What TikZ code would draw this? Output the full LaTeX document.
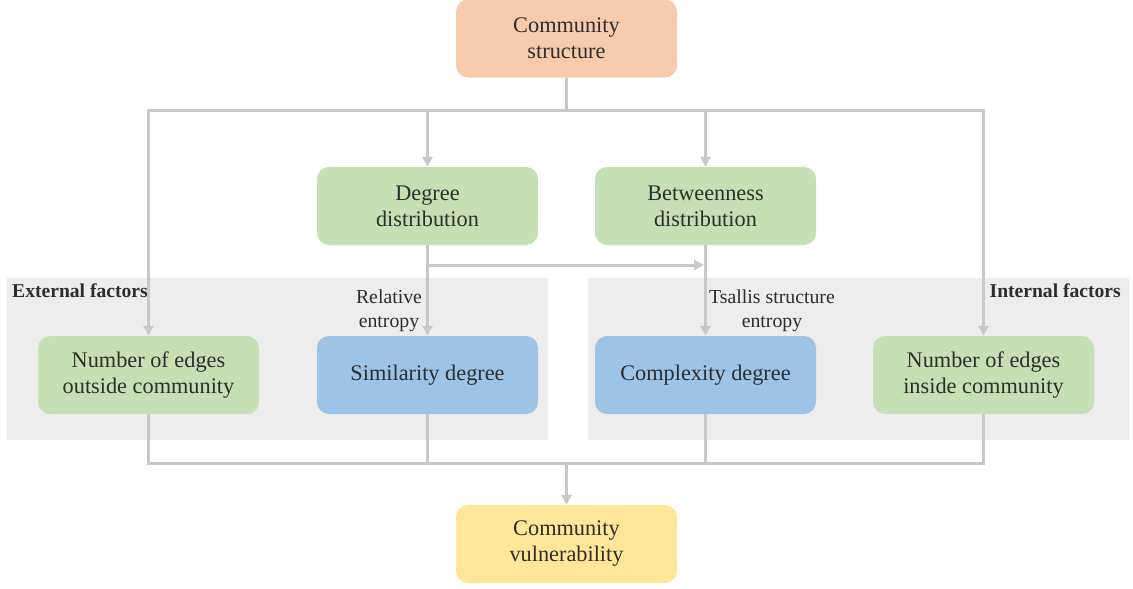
\documentclass[tikz,border=0pt]{standalone}
\usepackage{fontspec}
\setmainfont{Liberation Serif}
\usetikzlibrary{arrows.meta}
\definecolor{cOrange}{RGB}{248,203,173}
\definecolor{cGreen}{RGB}{197,224,180}
\definecolor{cBlue}{RGB}{157,195,230}
\definecolor{cYellow}{RGB}{255,230,153}
\definecolor{cPanel}{RGB}{237,237,237}
\definecolor{cLine}{RGB}{200,200,200}
\definecolor{cText}{RGB}{45,45,45}
\tikzset{
  box/.style={rounded corners=12pt, minimum width=221pt, minimum height=78pt,
    align=center, inner sep=0pt, text=cText,
    font=\fontsize{22.3}{26}\selectfont},
  conn/.style={draw=cLine, line width=3pt},
  arr/.style={conn, -{Triangle[width=10pt,length=10pt]}},
  lbl/.style={text=cText, align=center, inner sep=0pt, font=\fontsize{19.8}{24}\selectfont},
  hdr/.style={text=cText, inner sep=0pt, font=\bfseries\fontsize{19.6}{22}\selectfont},
  panel/.style={fill=cPanel, draw=none}
}
\begin{document}
\begin{tikzpicture}[x=1pt,y=-1pt]
\useasboundingbox (0,0) rectangle (1133,589);
% panels
\fill[panel] (7,278) rectangle (548,440);
\fill[panel] (588,278) rectangle (1129,440);
% nodes
\node[box, fill=cOrange] (cs) at (566.5,38.5) {Community\\structure};
\node[box, fill=cGreen] (dd) at (427.5,206) {Degree\\distribution};
\node[box, fill=cGreen] (bd) at (705.5,206) {Betweenness\\distribution};
\node[box, fill=cGreen] (out) at (148.5,375) {Number of edges\\outside community};
\node[box, fill=cBlue] (sim) at (427.5,375) {Similarity degree};
\node[box, fill=cBlue] (cx) at (705.5,375) {Complexity degree};
\node[box, fill=cGreen] (in) at (983.5,375) {Number of edges\\inside community};
\node[box, fill=cYellow] (cv) at (566.5,544) {Community\\vulnerability};
% labels
\node[hdr, anchor=west] (ext) at (12,291) {External factors};
\node[hdr, anchor=east] (int) at (1121,291) {Internal factors};
\node[lbl] (re) at (389,310.5) {Relative\\entropy};
\node[lbl] (ts) at (772,310.5) {Tsallis structure\\entropy};
% bus coordinates
\coordinate (tb) at (566.5,110);
\coordinate (tbL) at (148.5,110);
\coordinate (tbR) at (983.5,110);
\coordinate (tbD) at (427.5,110);
\coordinate (tbB) at (705.5,110);
\coordinate (br) at (427.5,265);
\coordinate (brE) at (705.5,265);
\coordinate (bb) at (566.5,463);
\coordinate (bbL) at (148.5,463);
\coordinate (bbR) at (983.5,463);
\coordinate (bbS) at (427.5,463);
\coordinate (bbC) at (705.5,463);
% top distribution
\draw[conn] (cs.south) -- (tb);
\draw[conn, line cap=rect] (tbL) -- (tbR);
\draw[arr] (tbL) -- (out.north);
\draw[arr] (tbR) -- (in.north);
\draw[arr] (tbD) -- (dd.north);
\draw[arr] (tbB) -- (bd.north);
% middle
\draw[arr] (dd.south) -- (sim.north);
\draw[arr] (br) -- ([xshift=-1.5pt]brE);
\draw[arr] (bd.south) -- (cx.north);
% bottom collection
\draw[conn] (out.south) -- (bbL);
\draw[conn] (sim.south) -- (bbS);
\draw[conn] (cx.south) -- (bbC);
\draw[conn] (in.south) -- (bbR);
\draw[conn, line cap=rect] (bbL) -- (bbR);
\draw[arr] (bb) -- (cv.north);
\end{tikzpicture}
\end{document}
